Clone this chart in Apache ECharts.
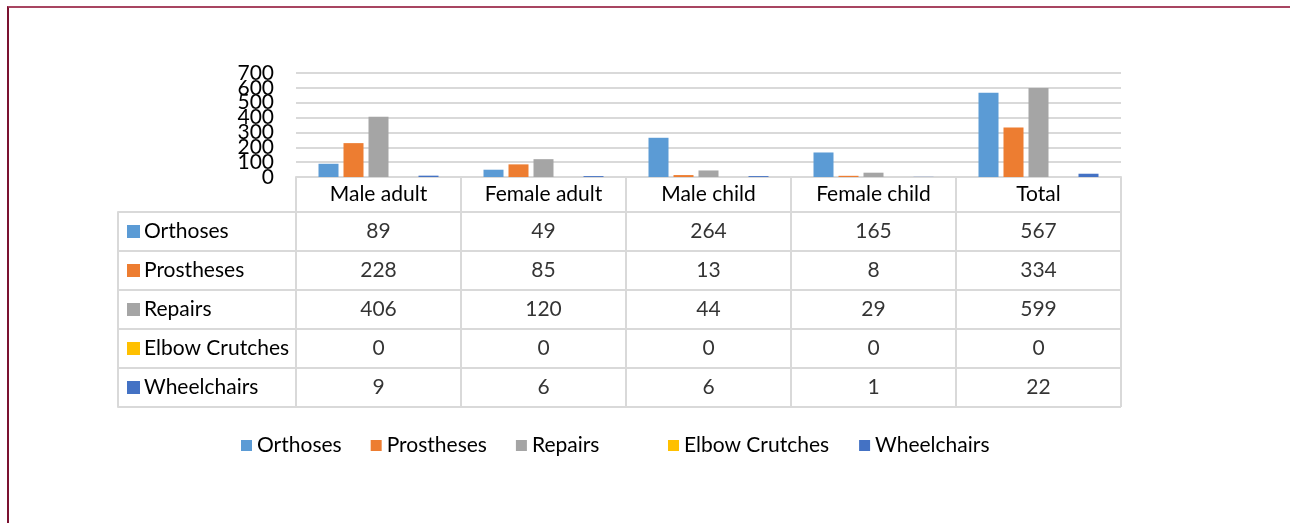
<!DOCTYPE html>
<html lang="en">
<head>
    <meta charset="UTF-8">
    <title>Devices</title>
    <style>
        body{ margin:0; background:#fff; }
        #main{ position:absolute; left:0; top:0; width:1290px; height:523px; }
        #frame{
            position:absolute; left:7px; top:6px; width:1281px; height:520px;
            border-left:2px solid #7b1230; border-top:2px solid #a84561; border-right:1px solid #ecd3da;
            pointer-events:none;
        }
    </style>
    <script src="https://cdn.jsdelivr.net/npm/echarts@6/dist/echarts.min.js"></script>
</head>
<body>
<div id="main"></div>
<div id="frame"></div>
<script type="text/javascript">
    // data
    var categories = ['Male adult', 'Female adult', 'Male child', 'Female child', 'Total'];
    var seriesNames = ['Orthoses', 'Prostheses', 'Repairs', 'Elbow Crutches', 'Wheelchairs'];
    var orthoses = [89, 49, 264, 165, 567];
    var prostheses = [228, 85, 13, 8, 334];
    var repairs = [406, 120, 44, 29, 599];
    var elbowCrutches = [0, 0, 0, 0, 0];
    var wheelchairs = [9, 6, 6, 1, 22];
    var yTicks = [0, 100, 200, 300, 400, 500, 600, 700];
    var colors = ['#5b9bd5', '#ed7d31', '#a5a5a5', '#ffc000', '#4472c4'];

    var allValues = [orthoses, prostheses, repairs, elbowCrutches, wheelchairs];
    var font = 'Lato';
    var fs = 21;
    var lineCol = '#d9d9d9';

    // table cells built from the arrays
    var cells = [];
    allValues.forEach(function (vals, r) {
        vals.forEach(function (v, c) {
            cells.push([c, r, v]);
        });
    });

    var rich = { t: { fontFamily: font, fontSize: fs, color: '#000', padding: [0, 0, 0, 4] } };
    colors.forEach(function (c, i) {
        rich['s' + i] = { width: 13, height: 13, backgroundColor: c };
    });

    var myChart = echarts.init(document.getElementById('main'));
    var series = allValues.map(function (vals, i) {
        return {
            name: seriesNames[i],
            type: 'bar',
            xAxisIndex: 0,
            yAxisIndex: 0,
            barWidth: 20,
            barGap: '25%',
            itemStyle: { color: colors[i] },
            data: vals
        };
    });
    series.push({
        type: 'scatter',
        xAxisIndex: 1,
        yAxisIndex: 1,
        symbolSize: 2,
        silent: true,
        itemStyle: { color: 'rgba(0,0,0,0)' },
        label: {
            show: true,
            position: 'inside',
            fontFamily: font,
            fontSize: fs,
            color: '#000',
            formatter: function (p) { return String(p.value[2]); }
        },
        labelLayout: { hideOverlap: false },
        data: cells
    });

    var legendBase = {
        top: 435,
        padding: 0,
        itemWidth: 11,
        itemHeight: 11,
        icon: 'rect',
        textStyle: { fontFamily: font, fontSize: fs, color: '#000' }
    };

    // the y labels overlap each other, so even and odd ticks go on two stacked axes
    function valueAxis(keepOdd, showSplit) {
        return {
            type: 'value',
            gridIndex: 0,
            position: 'left',
            min: yTicks[0],
            max: yTicks[yTicks.length - 1],
            interval: 100,
            axisLine: { show: false },
            axisTick: { show: false },
            axisLabel: {
                margin: 22, fontFamily: font, fontSize: fs, color: '#000',
                showMinLabel: true, showMaxLabel: true, hideOverlap: false,
                formatter: function (v) {
                    var i = yTicks.indexOf(v);
                    return (i % 2 === 1) === keepOdd ? String(v) : '';
                }
            },
            splitLine: { show: showSplit, lineStyle: { color: lineCol, width: 2 } }
        };
    }

    var option = {
        animation: false,
        textStyle: { fontFamily: font },
        legend: [
            Object.assign({}, legendBase, { left: 241, itemGap: 29, data: seriesNames.slice(0, 3) }),
            Object.assign({}, legendBase, { left: 668, itemGap: 30, data: seriesNames.slice(3) })
        ],
        grid: [
            { left: 296, right: 169, top: 73, height: 104 },
            { left: 296, right: 169, top: 212, height: 195 }
        ],
        xAxis: [{
            type: 'category',
            gridIndex: 0,
            data: categories,
            axisLine: { lineStyle: { color: lineCol, width: 2 } },
            axisTick: { show: true, length: 35, interval: 0, lineStyle: { color: lineCol, width: 2 } },
            axisLabel: { interval: 0, margin: 7, fontFamily: font, fontSize: fs, color: '#000' }
        }, {
            type: 'category',
            gridIndex: 1,
            data: categories,
            axisLine: { show: false },
            axisTick: { show: false },
            axisLabel: { show: false },
            splitLine: { show: true, interval: 0, lineStyle: { color: lineCol, width: 2 } }
        }],
        yAxis: [valueAxis(false, true), {
            type: 'category',
            gridIndex: 1,
            inverse: true,
            data: seriesNames,
            axisLine: { show: true, lineStyle: { color: lineCol, width: 2 } },
            axisTick: { show: true, length: 178, interval: 0, lineStyle: { color: lineCol, width: 2 } },
            axisLabel: {
                interval: 0,
                margin: 169,
                align: 'left',
                formatter: function (v, i) { return '{s' + i + '|}{t|' + v + '}'; },
                rich: rich
            },
            splitLine: { show: true, interval: 0, lineStyle: { color: lineCol, width: 2 } }
        }, {
            type: 'category',
            gridIndex: 1,
            position: 'left',
            offset: 178,
            data: seriesNames,
            axisLine: { show: true, lineStyle: { color: lineCol, width: 2 } },
            axisTick: { show: false },
            axisLabel: { show: false }
        }, valueAxis(true, false)],
        series: series
    };
    myChart.setOption(option);
</script>
</body>
</html>
